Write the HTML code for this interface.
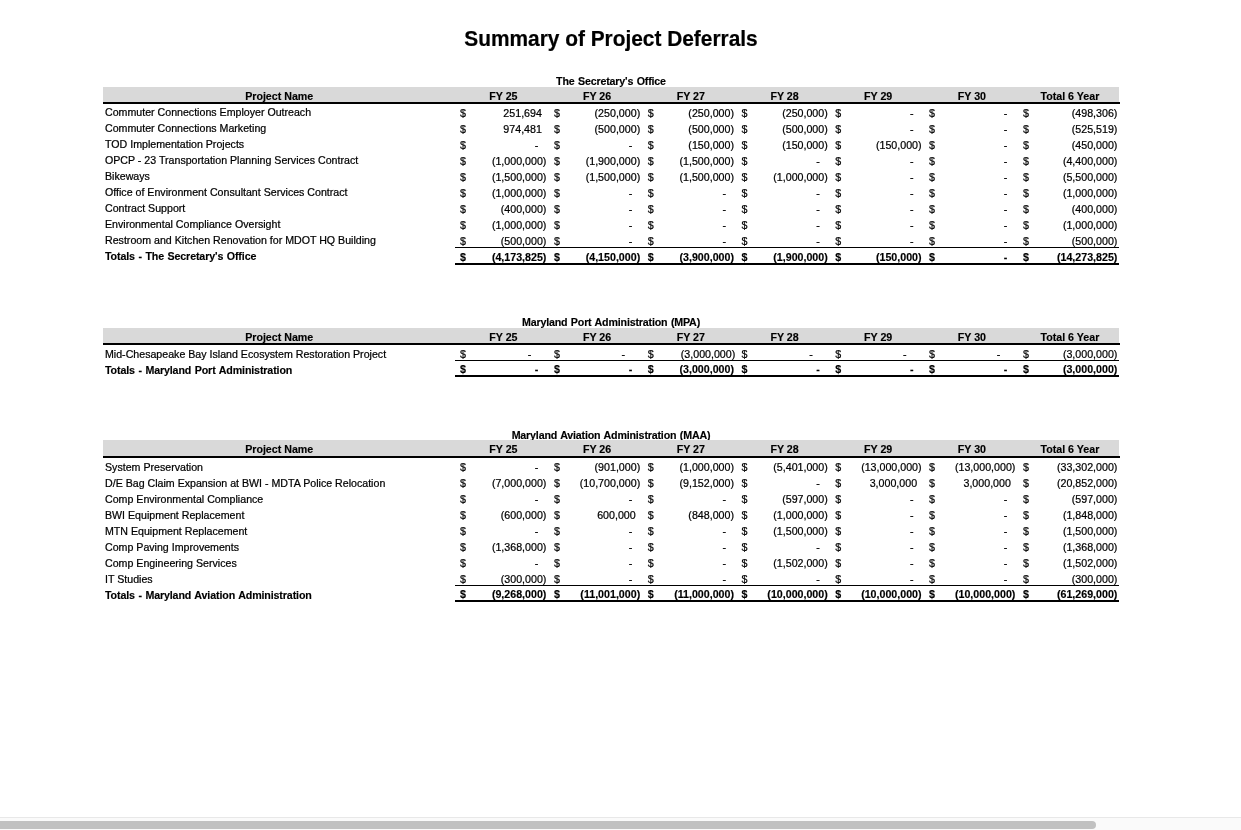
<!DOCTYPE html>
<html lang="en">
<head>
<meta charset="utf-8">
<title>Summary of Project Deferrals</title>
<style>
html,body{margin:0;padding:0;background:#fff;}
body{width:1241px;height:830px;overflow:hidden;position:relative;font-family:"Liberation Sans",Arial,Helvetica,sans-serif;color:#000;}
#pg{position:absolute;left:0;top:0;width:1241px;height:830px;overflow:hidden;background:#fff;}
.t{position:absolute;white-space:pre;font-size:10.67px;line-height:16px;height:16px;-webkit-text-stroke:0.22px #000;}
.b{font-weight:bold;-webkit-text-stroke:0.15px #000;}
.bl{letter-spacing:-0.12px;word-spacing:0.7px;}
.bt{letter-spacing:-0.17px;word-spacing:0.7px;}
.n{font-size:10.63px;}
.c{text-align:center;}
.r{text-align:right;}
.h1{position:absolute;left:0;width:1241px;text-align:center;font-weight:bold;white-space:pre;transform:scaleY(1.04);transform-origin:50% 19.9px;-webkit-text-stroke:0.2px #000;}
.band{position:absolute;background:#d9d9d9;}
.ln{position:absolute;background:#000;}
.sb{position:absolute;left:0;top:817px;width:1241px;height:13px;background:#fafafa;border-top:1px solid #e8e8e8;box-sizing:border-box;}
.th{position:absolute;left:-6px;top:3px;width:1102px;height:8px;border-radius:4px;background:#c1c1c1;}
</style>
</head>
<body>
<div id="pg">
<div class="h1" id="title" style="top:26px;font-size:20.87px;line-height:26px;left:-9.5px">Summary of Project Deferrals</div>
<!-- The Secretary's Office -->
<div class="t b bt c" style="left:103.00px;top:73.30px;width:1016.00px;">The Secretary's Office</div>
<div class="band" style="left:103px;top:87px;width:1016px;height:15px"></div>
<div class="ln" style="left:103px;top:102px;width:1017px;height:2px"></div>
<div class="t b c" style="left:179.20px;top:88.00px;width:200.00px;">Project Name</div><div class="t b c" style="left:453.40px;top:88.00px;width:100.00px;">FY 25</div><div class="t b c" style="left:547.10px;top:88.00px;width:100.00px;">FY 26</div><div class="t b c" style="left:640.80px;top:88.00px;width:100.00px;">FY 27</div><div class="t b c" style="left:734.50px;top:88.00px;width:100.00px;">FY 28</div><div class="t b c" style="left:828.20px;top:88.00px;width:100.00px;">FY 29</div><div class="t b c" style="left:921.90px;top:88.00px;width:100.00px;">FY 30</div><div class="t b c" style="left:1019.90px;top:88.00px;width:100.00px;">Total 6 Year</div>
<div class="t n" style="left:105.00px;top:104.20px;width:350.00px;">Commuter Connections Employer Outreach</div><div class="t " style="left:460.10px;top:105.00px;width:10.00px;">$</div><div class="t  r" style="left:467.00px;top:105.00px;width:74.90px;">251,694</div><div class="t " style="left:553.90px;top:105.00px;width:10.00px;">$</div><div class="t  r" style="left:560.80px;top:105.00px;width:79.40px;">(250,000)</div><div class="t " style="left:647.70px;top:105.00px;width:10.00px;">$</div><div class="t  r" style="left:654.60px;top:105.00px;width:79.40px;">(250,000)</div><div class="t " style="left:741.50px;top:105.00px;width:10.00px;">$</div><div class="t  r" style="left:748.40px;top:105.00px;width:79.40px;">(250,000)</div><div class="t " style="left:835.30px;top:105.00px;width:10.00px;">$</div><div class="t  r" style="left:842.20px;top:105.00px;width:71.40px;">-</div><div class="t " style="left:929.10px;top:105.00px;width:10.00px;">$</div><div class="t  r" style="left:936.00px;top:105.00px;width:71.40px;">-</div><div class="t " style="left:1022.90px;top:105.00px;width:10.00px;">$</div><div class="t  r" style="left:1029.80px;top:105.00px;width:87.60px;">(498,306)</div>
<div class="t n" style="left:105.00px;top:120.20px;width:350.00px;">Commuter Connections Marketing</div><div class="t " style="left:460.10px;top:121.00px;width:10.00px;">$</div><div class="t  r" style="left:467.00px;top:121.00px;width:74.90px;">974,481</div><div class="t " style="left:553.90px;top:121.00px;width:10.00px;">$</div><div class="t  r" style="left:560.80px;top:121.00px;width:79.40px;">(500,000)</div><div class="t " style="left:647.70px;top:121.00px;width:10.00px;">$</div><div class="t  r" style="left:654.60px;top:121.00px;width:79.40px;">(500,000)</div><div class="t " style="left:741.50px;top:121.00px;width:10.00px;">$</div><div class="t  r" style="left:748.40px;top:121.00px;width:79.40px;">(500,000)</div><div class="t " style="left:835.30px;top:121.00px;width:10.00px;">$</div><div class="t  r" style="left:842.20px;top:121.00px;width:71.40px;">-</div><div class="t " style="left:929.10px;top:121.00px;width:10.00px;">$</div><div class="t  r" style="left:936.00px;top:121.00px;width:71.40px;">-</div><div class="t " style="left:1022.90px;top:121.00px;width:10.00px;">$</div><div class="t  r" style="left:1029.80px;top:121.00px;width:87.60px;">(525,519)</div>
<div class="t n" style="left:105.00px;top:136.20px;width:350.00px;">TOD Implementation Projects</div><div class="t " style="left:460.10px;top:137.00px;width:10.00px;">$</div><div class="t  r" style="left:467.00px;top:137.00px;width:71.40px;">-</div><div class="t " style="left:553.90px;top:137.00px;width:10.00px;">$</div><div class="t  r" style="left:560.80px;top:137.00px;width:71.40px;">-</div><div class="t " style="left:647.70px;top:137.00px;width:10.00px;">$</div><div class="t  r" style="left:654.60px;top:137.00px;width:79.40px;">(150,000)</div><div class="t " style="left:741.50px;top:137.00px;width:10.00px;">$</div><div class="t  r" style="left:748.40px;top:137.00px;width:79.40px;">(150,000)</div><div class="t " style="left:835.30px;top:137.00px;width:10.00px;">$</div><div class="t  r" style="left:842.20px;top:137.00px;width:79.40px;">(150,000)</div><div class="t " style="left:929.10px;top:137.00px;width:10.00px;">$</div><div class="t  r" style="left:936.00px;top:137.00px;width:71.40px;">-</div><div class="t " style="left:1022.90px;top:137.00px;width:10.00px;">$</div><div class="t  r" style="left:1029.80px;top:137.00px;width:87.60px;">(450,000)</div>
<div class="t n" style="left:105.00px;top:152.20px;width:350.00px;">OPCP - 23 Transportation Planning Services Contract</div><div class="t " style="left:460.10px;top:153.00px;width:10.00px;">$</div><div class="t  r" style="left:467.00px;top:153.00px;width:79.40px;">(1,000,000)</div><div class="t " style="left:553.90px;top:153.00px;width:10.00px;">$</div><div class="t  r" style="left:560.80px;top:153.00px;width:79.40px;">(1,900,000)</div><div class="t " style="left:647.70px;top:153.00px;width:10.00px;">$</div><div class="t  r" style="left:654.60px;top:153.00px;width:79.40px;">(1,500,000)</div><div class="t " style="left:741.50px;top:153.00px;width:10.00px;">$</div><div class="t  r" style="left:748.40px;top:153.00px;width:71.40px;">-</div><div class="t " style="left:835.30px;top:153.00px;width:10.00px;">$</div><div class="t  r" style="left:842.20px;top:153.00px;width:71.40px;">-</div><div class="t " style="left:929.10px;top:153.00px;width:10.00px;">$</div><div class="t  r" style="left:936.00px;top:153.00px;width:71.40px;">-</div><div class="t " style="left:1022.90px;top:153.00px;width:10.00px;">$</div><div class="t  r" style="left:1029.80px;top:153.00px;width:87.60px;">(4,400,000)</div>
<div class="t n" style="left:105.00px;top:168.20px;width:350.00px;">Bikeways</div><div class="t " style="left:460.10px;top:169.00px;width:10.00px;">$</div><div class="t  r" style="left:467.00px;top:169.00px;width:79.40px;">(1,500,000)</div><div class="t " style="left:553.90px;top:169.00px;width:10.00px;">$</div><div class="t  r" style="left:560.80px;top:169.00px;width:79.40px;">(1,500,000)</div><div class="t " style="left:647.70px;top:169.00px;width:10.00px;">$</div><div class="t  r" style="left:654.60px;top:169.00px;width:79.40px;">(1,500,000)</div><div class="t " style="left:741.50px;top:169.00px;width:10.00px;">$</div><div class="t  r" style="left:748.40px;top:169.00px;width:79.40px;">(1,000,000)</div><div class="t " style="left:835.30px;top:169.00px;width:10.00px;">$</div><div class="t  r" style="left:842.20px;top:169.00px;width:71.40px;">-</div><div class="t " style="left:929.10px;top:169.00px;width:10.00px;">$</div><div class="t  r" style="left:936.00px;top:169.00px;width:71.40px;">-</div><div class="t " style="left:1022.90px;top:169.00px;width:10.00px;">$</div><div class="t  r" style="left:1029.80px;top:169.00px;width:87.60px;">(5,500,000)</div>
<div class="t n" style="left:105.00px;top:184.20px;width:350.00px;">Office of Environment Consultant Services Contract</div><div class="t " style="left:460.10px;top:185.00px;width:10.00px;">$</div><div class="t  r" style="left:467.00px;top:185.00px;width:79.40px;">(1,000,000)</div><div class="t " style="left:553.90px;top:185.00px;width:10.00px;">$</div><div class="t  r" style="left:560.80px;top:185.00px;width:71.40px;">-</div><div class="t " style="left:647.70px;top:185.00px;width:10.00px;">$</div><div class="t  r" style="left:654.60px;top:185.00px;width:71.40px;">-</div><div class="t " style="left:741.50px;top:185.00px;width:10.00px;">$</div><div class="t  r" style="left:748.40px;top:185.00px;width:71.40px;">-</div><div class="t " style="left:835.30px;top:185.00px;width:10.00px;">$</div><div class="t  r" style="left:842.20px;top:185.00px;width:71.40px;">-</div><div class="t " style="left:929.10px;top:185.00px;width:10.00px;">$</div><div class="t  r" style="left:936.00px;top:185.00px;width:71.40px;">-</div><div class="t " style="left:1022.90px;top:185.00px;width:10.00px;">$</div><div class="t  r" style="left:1029.80px;top:185.00px;width:87.60px;">(1,000,000)</div>
<div class="t n" style="left:105.00px;top:200.20px;width:350.00px;">Contract Support</div><div class="t " style="left:460.10px;top:201.00px;width:10.00px;">$</div><div class="t  r" style="left:467.00px;top:201.00px;width:79.40px;">(400,000)</div><div class="t " style="left:553.90px;top:201.00px;width:10.00px;">$</div><div class="t  r" style="left:560.80px;top:201.00px;width:71.40px;">-</div><div class="t " style="left:647.70px;top:201.00px;width:10.00px;">$</div><div class="t  r" style="left:654.60px;top:201.00px;width:71.40px;">-</div><div class="t " style="left:741.50px;top:201.00px;width:10.00px;">$</div><div class="t  r" style="left:748.40px;top:201.00px;width:71.40px;">-</div><div class="t " style="left:835.30px;top:201.00px;width:10.00px;">$</div><div class="t  r" style="left:842.20px;top:201.00px;width:71.40px;">-</div><div class="t " style="left:929.10px;top:201.00px;width:10.00px;">$</div><div class="t  r" style="left:936.00px;top:201.00px;width:71.40px;">-</div><div class="t " style="left:1022.90px;top:201.00px;width:10.00px;">$</div><div class="t  r" style="left:1029.80px;top:201.00px;width:87.60px;">(400,000)</div>
<div class="t n" style="left:105.00px;top:216.20px;width:350.00px;">Environmental Compliance Oversight</div><div class="t " style="left:460.10px;top:217.00px;width:10.00px;">$</div><div class="t  r" style="left:467.00px;top:217.00px;width:79.40px;">(1,000,000)</div><div class="t " style="left:553.90px;top:217.00px;width:10.00px;">$</div><div class="t  r" style="left:560.80px;top:217.00px;width:71.40px;">-</div><div class="t " style="left:647.70px;top:217.00px;width:10.00px;">$</div><div class="t  r" style="left:654.60px;top:217.00px;width:71.40px;">-</div><div class="t " style="left:741.50px;top:217.00px;width:10.00px;">$</div><div class="t  r" style="left:748.40px;top:217.00px;width:71.40px;">-</div><div class="t " style="left:835.30px;top:217.00px;width:10.00px;">$</div><div class="t  r" style="left:842.20px;top:217.00px;width:71.40px;">-</div><div class="t " style="left:929.10px;top:217.00px;width:10.00px;">$</div><div class="t  r" style="left:936.00px;top:217.00px;width:71.40px;">-</div><div class="t " style="left:1022.90px;top:217.00px;width:10.00px;">$</div><div class="t  r" style="left:1029.80px;top:217.00px;width:87.60px;">(1,000,000)</div>
<div class="t n" style="left:105.00px;top:232.20px;width:350.00px;">Restroom and Kitchen Renovation for MDOT HQ Building</div><div class="t " style="left:460.10px;top:233.00px;width:10.00px;">$</div><div class="t  r" style="left:467.00px;top:233.00px;width:79.40px;">(500,000)</div><div class="t " style="left:553.90px;top:233.00px;width:10.00px;">$</div><div class="t  r" style="left:560.80px;top:233.00px;width:71.40px;">-</div><div class="t " style="left:647.70px;top:233.00px;width:10.00px;">$</div><div class="t  r" style="left:654.60px;top:233.00px;width:71.40px;">-</div><div class="t " style="left:741.50px;top:233.00px;width:10.00px;">$</div><div class="t  r" style="left:748.40px;top:233.00px;width:71.40px;">-</div><div class="t " style="left:835.30px;top:233.00px;width:10.00px;">$</div><div class="t  r" style="left:842.20px;top:233.00px;width:71.40px;">-</div><div class="t " style="left:929.10px;top:233.00px;width:10.00px;">$</div><div class="t  r" style="left:936.00px;top:233.00px;width:71.40px;">-</div><div class="t " style="left:1022.90px;top:233.00px;width:10.00px;">$</div><div class="t  r" style="left:1029.80px;top:233.00px;width:87.60px;">(500,000)</div>
<div class="t b bl" style="left:105.00px;top:248.20px;width:350.00px;">Totals - The Secretary's Office</div><div class="t b" style="left:460.10px;top:249.00px;width:10.00px;">$</div><div class="t b r" style="left:467.00px;top:249.00px;width:79.40px;">(4,173,825)</div><div class="t b" style="left:553.90px;top:249.00px;width:10.00px;">$</div><div class="t b r" style="left:560.80px;top:249.00px;width:79.40px;">(4,150,000)</div><div class="t b" style="left:647.70px;top:249.00px;width:10.00px;">$</div><div class="t b r" style="left:654.60px;top:249.00px;width:79.40px;">(3,900,000)</div><div class="t b" style="left:741.50px;top:249.00px;width:10.00px;">$</div><div class="t b r" style="left:748.40px;top:249.00px;width:79.40px;">(1,900,000)</div><div class="t b" style="left:835.30px;top:249.00px;width:10.00px;">$</div><div class="t b r" style="left:842.20px;top:249.00px;width:79.40px;">(150,000)</div><div class="t b" style="left:929.10px;top:249.00px;width:10.00px;">$</div><div class="t b r" style="left:936.00px;top:249.00px;width:71.40px;">-</div><div class="t b" style="left:1022.90px;top:249.00px;width:10.00px;">$</div><div class="t b r" style="left:1029.80px;top:249.00px;width:87.60px;">(14,273,825)</div>
<div class="ln" style="left:455px;top:247px;width:664px;height:1px"></div>
<div class="ln" style="left:455px;top:263px;width:664px;height:2px"></div>
<!-- Maryland Port Administration (MPA) -->
<div class="t b bt c" style="left:103.00px;top:314.30px;width:1016.00px;">Maryland Port Administration (MPA)</div>
<div class="band" style="left:103px;top:328px;width:1016px;height:15px"></div>
<div class="ln" style="left:103px;top:343px;width:1017px;height:2px"></div>
<div class="t b c" style="left:179.20px;top:329.00px;width:200.00px;">Project Name</div><div class="t b c" style="left:453.40px;top:329.00px;width:100.00px;">FY 25</div><div class="t b c" style="left:547.10px;top:329.00px;width:100.00px;">FY 26</div><div class="t b c" style="left:640.80px;top:329.00px;width:100.00px;">FY 27</div><div class="t b c" style="left:734.50px;top:329.00px;width:100.00px;">FY 28</div><div class="t b c" style="left:828.20px;top:329.00px;width:100.00px;">FY 29</div><div class="t b c" style="left:921.90px;top:329.00px;width:100.00px;">FY 30</div><div class="t b c" style="left:1019.90px;top:329.00px;width:100.00px;">Total 6 Year</div>
<div class="t n" style="left:105.00px;top:346.00px;width:350.00px;">Mid-Chesapeake Bay Island Ecosystem Restoration Project</div><div class="t " style="left:460.10px;top:346.00px;width:10.00px;">$</div><div class="t  r" style="left:467.00px;top:346.00px;width:64.30px;">-</div><div class="t " style="left:553.90px;top:346.00px;width:10.00px;">$</div><div class="t  r" style="left:560.80px;top:346.00px;width:64.30px;">-</div><div class="t " style="left:647.70px;top:346.00px;width:10.00px;">$</div><div class="t  r" style="left:654.60px;top:346.00px;width:80.70px;">(3,000,000)</div><div class="t " style="left:741.50px;top:346.00px;width:10.00px;">$</div><div class="t  r" style="left:748.40px;top:346.00px;width:64.30px;">-</div><div class="t " style="left:835.30px;top:346.00px;width:10.00px;">$</div><div class="t  r" style="left:842.20px;top:346.00px;width:64.30px;">-</div><div class="t " style="left:929.10px;top:346.00px;width:10.00px;">$</div><div class="t  r" style="left:936.00px;top:346.00px;width:64.30px;">-</div><div class="t " style="left:1022.90px;top:346.00px;width:10.00px;">$</div><div class="t  r" style="left:1029.80px;top:346.00px;width:87.60px;">(3,000,000)</div>
<div class="t b bl" style="left:105.00px;top:362.00px;width:350.00px;">Totals - Maryland Port Administration</div><div class="t b" style="left:460.10px;top:360.90px;width:10.00px;">$</div><div class="t b r" style="left:467.00px;top:360.90px;width:71.40px;">-</div><div class="t b" style="left:553.90px;top:360.90px;width:10.00px;">$</div><div class="t b r" style="left:560.80px;top:360.90px;width:71.40px;">-</div><div class="t b" style="left:647.70px;top:360.90px;width:10.00px;">$</div><div class="t b r" style="left:654.60px;top:360.90px;width:79.40px;">(3,000,000)</div><div class="t b" style="left:741.50px;top:360.90px;width:10.00px;">$</div><div class="t b r" style="left:748.40px;top:360.90px;width:71.40px;">-</div><div class="t b" style="left:835.30px;top:360.90px;width:10.00px;">$</div><div class="t b r" style="left:842.20px;top:360.90px;width:71.40px;">-</div><div class="t b" style="left:929.10px;top:360.90px;width:10.00px;">$</div><div class="t b r" style="left:936.00px;top:360.90px;width:71.40px;">-</div><div class="t b" style="left:1022.90px;top:360.90px;width:10.00px;">$</div><div class="t b r" style="left:1029.80px;top:360.90px;width:87.60px;">(3,000,000)</div>
<div class="ln" style="left:455px;top:360px;width:664px;height:1px"></div>
<div class="ln" style="left:455px;top:375px;width:664px;height:2px"></div>
<!-- Maryland Aviation Administration (MAA) -->
<div class="t b bt c" style="left:103.00px;top:427.30px;width:1016.00px;">Maryland Aviation Administration (MAA)</div>
<div class="band" style="left:103px;top:440px;width:1016px;height:16px"></div>
<div class="ln" style="left:103px;top:456px;width:1017px;height:2px"></div>
<div class="t b c" style="left:179.20px;top:441.00px;width:200.00px;">Project Name</div><div class="t b c" style="left:453.40px;top:441.00px;width:100.00px;">FY 25</div><div class="t b c" style="left:547.10px;top:441.00px;width:100.00px;">FY 26</div><div class="t b c" style="left:640.80px;top:441.00px;width:100.00px;">FY 27</div><div class="t b c" style="left:734.50px;top:441.00px;width:100.00px;">FY 28</div><div class="t b c" style="left:828.20px;top:441.00px;width:100.00px;">FY 29</div><div class="t b c" style="left:921.90px;top:441.00px;width:100.00px;">FY 30</div><div class="t b c" style="left:1019.90px;top:441.00px;width:100.00px;">Total 6 Year</div>
<div class="t n" style="left:105.00px;top:458.70px;width:350.00px;">System Preservation</div><div class="t " style="left:460.10px;top:459.00px;width:10.00px;">$</div><div class="t  r" style="left:467.00px;top:459.00px;width:71.40px;">-</div><div class="t " style="left:553.90px;top:459.00px;width:10.00px;">$</div><div class="t  r" style="left:560.80px;top:459.00px;width:79.40px;">(901,000)</div><div class="t " style="left:647.70px;top:459.00px;width:10.00px;">$</div><div class="t  r" style="left:654.60px;top:459.00px;width:79.40px;">(1,000,000)</div><div class="t " style="left:741.50px;top:459.00px;width:10.00px;">$</div><div class="t  r" style="left:748.40px;top:459.00px;width:79.40px;">(5,401,000)</div><div class="t " style="left:835.30px;top:459.00px;width:10.00px;">$</div><div class="t  r" style="left:842.20px;top:459.00px;width:79.40px;">(13,000,000)</div><div class="t " style="left:929.10px;top:459.00px;width:10.00px;">$</div><div class="t  r" style="left:936.00px;top:459.00px;width:79.40px;">(13,000,000)</div><div class="t " style="left:1022.90px;top:459.00px;width:10.00px;">$</div><div class="t  r" style="left:1029.80px;top:459.00px;width:87.60px;">(33,302,000)</div>
<div class="t n" style="left:105.00px;top:474.70px;width:350.00px;">D/E Bag Claim Expansion at BWI - MDTA Police Relocation</div><div class="t " style="left:460.10px;top:475.00px;width:10.00px;">$</div><div class="t  r" style="left:467.00px;top:475.00px;width:79.40px;">(7,000,000)</div><div class="t " style="left:553.90px;top:475.00px;width:10.00px;">$</div><div class="t  r" style="left:560.80px;top:475.00px;width:79.40px;">(10,700,000)</div><div class="t " style="left:647.70px;top:475.00px;width:10.00px;">$</div><div class="t  r" style="left:654.60px;top:475.00px;width:79.40px;">(9,152,000)</div><div class="t " style="left:741.50px;top:475.00px;width:10.00px;">$</div><div class="t  r" style="left:748.40px;top:475.00px;width:71.40px;">-</div><div class="t " style="left:835.30px;top:475.00px;width:10.00px;">$</div><div class="t  r" style="left:842.20px;top:475.00px;width:74.90px;">3,000,000</div><div class="t " style="left:929.10px;top:475.00px;width:10.00px;">$</div><div class="t  r" style="left:936.00px;top:475.00px;width:74.90px;">3,000,000</div><div class="t " style="left:1022.90px;top:475.00px;width:10.00px;">$</div><div class="t  r" style="left:1029.80px;top:475.00px;width:87.60px;">(20,852,000)</div>
<div class="t n" style="left:105.00px;top:490.70px;width:350.00px;">Comp Environmental Compliance</div><div class="t " style="left:460.10px;top:491.00px;width:10.00px;">$</div><div class="t  r" style="left:467.00px;top:491.00px;width:71.40px;">-</div><div class="t " style="left:553.90px;top:491.00px;width:10.00px;">$</div><div class="t  r" style="left:560.80px;top:491.00px;width:71.40px;">-</div><div class="t " style="left:647.70px;top:491.00px;width:10.00px;">$</div><div class="t  r" style="left:654.60px;top:491.00px;width:71.40px;">-</div><div class="t " style="left:741.50px;top:491.00px;width:10.00px;">$</div><div class="t  r" style="left:748.40px;top:491.00px;width:79.40px;">(597,000)</div><div class="t " style="left:835.30px;top:491.00px;width:10.00px;">$</div><div class="t  r" style="left:842.20px;top:491.00px;width:71.40px;">-</div><div class="t " style="left:929.10px;top:491.00px;width:10.00px;">$</div><div class="t  r" style="left:936.00px;top:491.00px;width:71.40px;">-</div><div class="t " style="left:1022.90px;top:491.00px;width:10.00px;">$</div><div class="t  r" style="left:1029.80px;top:491.00px;width:87.60px;">(597,000)</div>
<div class="t n" style="left:105.00px;top:506.70px;width:350.00px;">BWI Equipment Replacement</div><div class="t " style="left:460.10px;top:507.00px;width:10.00px;">$</div><div class="t  r" style="left:467.00px;top:507.00px;width:79.40px;">(600,000)</div><div class="t " style="left:553.90px;top:507.00px;width:10.00px;">$</div><div class="t  r" style="left:560.80px;top:507.00px;width:74.90px;">600,000</div><div class="t " style="left:647.70px;top:507.00px;width:10.00px;">$</div><div class="t  r" style="left:654.60px;top:507.00px;width:79.40px;">(848,000)</div><div class="t " style="left:741.50px;top:507.00px;width:10.00px;">$</div><div class="t  r" style="left:748.40px;top:507.00px;width:79.40px;">(1,000,000)</div><div class="t " style="left:835.30px;top:507.00px;width:10.00px;">$</div><div class="t  r" style="left:842.20px;top:507.00px;width:71.40px;">-</div><div class="t " style="left:929.10px;top:507.00px;width:10.00px;">$</div><div class="t  r" style="left:936.00px;top:507.00px;width:71.40px;">-</div><div class="t " style="left:1022.90px;top:507.00px;width:10.00px;">$</div><div class="t  r" style="left:1029.80px;top:507.00px;width:87.60px;">(1,848,000)</div>
<div class="t n" style="left:105.00px;top:522.70px;width:350.00px;">MTN Equipment Replacement</div><div class="t " style="left:460.10px;top:523.00px;width:10.00px;">$</div><div class="t  r" style="left:467.00px;top:523.00px;width:71.40px;">-</div><div class="t " style="left:553.90px;top:523.00px;width:10.00px;">$</div><div class="t  r" style="left:560.80px;top:523.00px;width:71.40px;">-</div><div class="t " style="left:647.70px;top:523.00px;width:10.00px;">$</div><div class="t  r" style="left:654.60px;top:523.00px;width:71.40px;">-</div><div class="t " style="left:741.50px;top:523.00px;width:10.00px;">$</div><div class="t  r" style="left:748.40px;top:523.00px;width:79.40px;">(1,500,000)</div><div class="t " style="left:835.30px;top:523.00px;width:10.00px;">$</div><div class="t  r" style="left:842.20px;top:523.00px;width:71.40px;">-</div><div class="t " style="left:929.10px;top:523.00px;width:10.00px;">$</div><div class="t  r" style="left:936.00px;top:523.00px;width:71.40px;">-</div><div class="t " style="left:1022.90px;top:523.00px;width:10.00px;">$</div><div class="t  r" style="left:1029.80px;top:523.00px;width:87.60px;">(1,500,000)</div>
<div class="t n" style="left:105.00px;top:538.70px;width:350.00px;">Comp Paving Improvements</div><div class="t " style="left:460.10px;top:539.00px;width:10.00px;">$</div><div class="t  r" style="left:467.00px;top:539.00px;width:79.40px;">(1,368,000)</div><div class="t " style="left:553.90px;top:539.00px;width:10.00px;">$</div><div class="t  r" style="left:560.80px;top:539.00px;width:71.40px;">-</div><div class="t " style="left:647.70px;top:539.00px;width:10.00px;">$</div><div class="t  r" style="left:654.60px;top:539.00px;width:71.40px;">-</div><div class="t " style="left:741.50px;top:539.00px;width:10.00px;">$</div><div class="t  r" style="left:748.40px;top:539.00px;width:71.40px;">-</div><div class="t " style="left:835.30px;top:539.00px;width:10.00px;">$</div><div class="t  r" style="left:842.20px;top:539.00px;width:71.40px;">-</div><div class="t " style="left:929.10px;top:539.00px;width:10.00px;">$</div><div class="t  r" style="left:936.00px;top:539.00px;width:71.40px;">-</div><div class="t " style="left:1022.90px;top:539.00px;width:10.00px;">$</div><div class="t  r" style="left:1029.80px;top:539.00px;width:87.60px;">(1,368,000)</div>
<div class="t n" style="left:105.00px;top:554.70px;width:350.00px;">Comp Engineering Services</div><div class="t " style="left:460.10px;top:555.00px;width:10.00px;">$</div><div class="t  r" style="left:467.00px;top:555.00px;width:71.40px;">-</div><div class="t " style="left:553.90px;top:555.00px;width:10.00px;">$</div><div class="t  r" style="left:560.80px;top:555.00px;width:71.40px;">-</div><div class="t " style="left:647.70px;top:555.00px;width:10.00px;">$</div><div class="t  r" style="left:654.60px;top:555.00px;width:71.40px;">-</div><div class="t " style="left:741.50px;top:555.00px;width:10.00px;">$</div><div class="t  r" style="left:748.40px;top:555.00px;width:79.40px;">(1,502,000)</div><div class="t " style="left:835.30px;top:555.00px;width:10.00px;">$</div><div class="t  r" style="left:842.20px;top:555.00px;width:71.40px;">-</div><div class="t " style="left:929.10px;top:555.00px;width:10.00px;">$</div><div class="t  r" style="left:936.00px;top:555.00px;width:71.40px;">-</div><div class="t " style="left:1022.90px;top:555.00px;width:10.00px;">$</div><div class="t  r" style="left:1029.80px;top:555.00px;width:87.60px;">(1,502,000)</div>
<div class="t n" style="left:105.00px;top:570.70px;width:350.00px;">IT Studies</div><div class="t " style="left:460.10px;top:571.00px;width:10.00px;">$</div><div class="t  r" style="left:467.00px;top:571.00px;width:79.40px;">(300,000)</div><div class="t " style="left:553.90px;top:571.00px;width:10.00px;">$</div><div class="t  r" style="left:560.80px;top:571.00px;width:71.40px;">-</div><div class="t " style="left:647.70px;top:571.00px;width:10.00px;">$</div><div class="t  r" style="left:654.60px;top:571.00px;width:71.40px;">-</div><div class="t " style="left:741.50px;top:571.00px;width:10.00px;">$</div><div class="t  r" style="left:748.40px;top:571.00px;width:71.40px;">-</div><div class="t " style="left:835.30px;top:571.00px;width:10.00px;">$</div><div class="t  r" style="left:842.20px;top:571.00px;width:71.40px;">-</div><div class="t " style="left:929.10px;top:571.00px;width:10.00px;">$</div><div class="t  r" style="left:936.00px;top:571.00px;width:71.40px;">-</div><div class="t " style="left:1022.90px;top:571.00px;width:10.00px;">$</div><div class="t  r" style="left:1029.80px;top:571.00px;width:87.60px;">(300,000)</div>
<div class="t b bl" style="left:105.00px;top:587.00px;width:350.00px;">Totals - Maryland Aviation Administration</div><div class="t b" style="left:460.10px;top:585.90px;width:10.00px;">$</div><div class="t b r" style="left:467.00px;top:585.90px;width:79.40px;">(9,268,000)</div><div class="t b" style="left:553.90px;top:585.90px;width:10.00px;">$</div><div class="t b r" style="left:560.80px;top:585.90px;width:79.40px;">(11,001,000)</div><div class="t b" style="left:647.70px;top:585.90px;width:10.00px;">$</div><div class="t b r" style="left:654.60px;top:585.90px;width:79.40px;">(11,000,000)</div><div class="t b" style="left:741.50px;top:585.90px;width:10.00px;">$</div><div class="t b r" style="left:748.40px;top:585.90px;width:79.40px;">(10,000,000)</div><div class="t b" style="left:835.30px;top:585.90px;width:10.00px;">$</div><div class="t b r" style="left:842.20px;top:585.90px;width:79.40px;">(10,000,000)</div><div class="t b" style="left:929.10px;top:585.90px;width:10.00px;">$</div><div class="t b r" style="left:936.00px;top:585.90px;width:79.40px;">(10,000,000)</div><div class="t b" style="left:1022.90px;top:585.90px;width:10.00px;">$</div><div class="t b r" style="left:1029.80px;top:585.90px;width:87.60px;">(61,269,000)</div>
<div class="ln" style="left:455px;top:585px;width:664px;height:1px"></div>
<div class="ln" style="left:455px;top:600px;width:664px;height:2px"></div>
<div class="sb"><div class="th"></div></div>
</div>
</body>
</html>
